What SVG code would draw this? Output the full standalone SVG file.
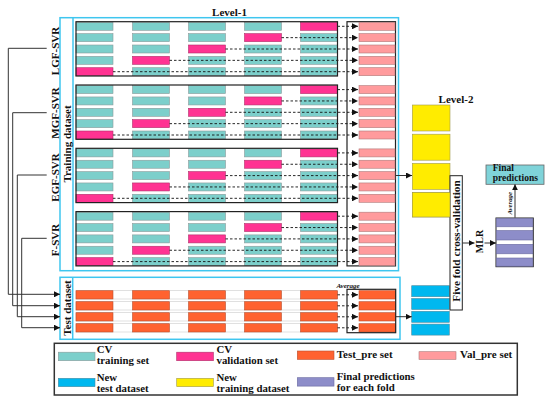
<svg xmlns="http://www.w3.org/2000/svg" xmlns:xlink="http://www.w3.org/1999/xlink" width="550" height="402" viewBox="0 0 550 402">
<style>
.t{font-family:"Liberation Serif","Times New Roman",serif;font-weight:bold;fill:#111}
.tl{fill:#7ccfcb;stroke:#8a9a9a;stroke-width:0.6}
.pk{fill:#ff3392;stroke:#b0306a;stroke-width:0.6}
.vp{fill:#ff9b9d;stroke:#b07a7a;stroke-width:0.6}
.or{fill:#ff6230;stroke:#b85030;stroke-width:0.6}
.bl{fill:#00b8ef;stroke:#4a8aa0;stroke-width:0.6}
.ye{fill:#ffec00;stroke:#a09a50;stroke-width:0.6}
.pu{fill:#8d8dc9;stroke:#6a6aa0;stroke-width:0.6}
.cy{fill:none;stroke:#3fc6ef;stroke-width:1.5}
.fr{fill:none;stroke:#222;stroke-width:1.2}
.da{stroke:#111;stroke-width:0.9;stroke-dasharray:2.5 2;fill:none}
.ln{stroke:#333;stroke-width:1;fill:none}
.row{fill:none;stroke:#ccc;stroke-width:0.6}
</style>
<defs>
<marker id="ah" markerWidth="7" markerHeight="6" refX="6" refY="3" orient="auto" markerUnits="userSpaceOnUse"><path d="M0,0 L6,3 L0,6 z" fill="#111"/></marker>
<g id="blk">
<rect class="tl" x="0" y="0.6" width="37" height="8"/><rect class="tl" x="56.5" y="0.6" width="37" height="8"/><rect class="tl" x="112.5" y="0.6" width="37" height="8"/><rect class="tl" x="168.5" y="0.6" width="37" height="8"/><rect class="pk" x="224.5" y="0.6" width="37" height="8"/>
<rect class="tl" x="0" y="11.95" width="37" height="8"/><rect class="tl" x="56.5" y="11.95" width="37" height="8"/><rect class="tl" x="112.5" y="11.95" width="37" height="8"/><rect class="pk" x="168.5" y="11.95" width="37" height="8"/><rect class="tl" x="224.5" y="11.95" width="37" height="8"/>
<rect class="tl" x="0" y="23.3" width="37" height="8"/><rect class="tl" x="56.5" y="23.3" width="37" height="8"/><rect class="pk" x="112.5" y="23.3" width="37" height="8"/><rect class="tl" x="168.5" y="23.3" width="37" height="8"/><rect class="tl" x="224.5" y="23.3" width="37" height="8"/>
<rect class="tl" x="0" y="34.65" width="37" height="8"/><rect class="pk" x="56.5" y="34.65" width="37" height="8"/><rect class="tl" x="112.5" y="34.65" width="37" height="8"/><rect class="tl" x="168.5" y="34.65" width="37" height="8"/><rect class="tl" x="224.5" y="34.65" width="37" height="8"/>
<rect class="pk" x="0" y="46" width="37" height="8"/><rect class="tl" x="56.5" y="46" width="37" height="8"/><rect class="tl" x="112.5" y="46" width="37" height="8"/><rect class="tl" x="168.5" y="46" width="37" height="8"/><rect class="tl" x="224.5" y="46" width="37" height="8"/>
<rect class="vp" x="283" y="0.6" width="36" height="8"/><rect class="vp" x="283" y="11.95" width="36" height="8"/><rect class="vp" x="283" y="23.3" width="36" height="8"/><rect class="vp" x="283" y="34.65" width="36" height="8"/><rect class="vp" x="283" y="46" width="36" height="8"/>
<path class="da" d="M261.5,4.6 H282" marker-end="url(#ah)"/>
<path class="da" d="M205.5,15.95 H282" marker-end="url(#ah)"/>
<path class="da" d="M149.5,27.3 H282" marker-end="url(#ah)"/>
<path class="da" d="M93.5,38.65 H282" marker-end="url(#ah)"/>
<path class="da" d="M37,50 H282" marker-end="url(#ah)"/>
<rect class="fr" x="0" y="0" width="261.5" height="54.3"/>
</g>
</defs>
<rect width="550" height="402" fill="#fff"/>

<g id="training-dataset">
<rect class="cy" x="60" y="17.7" width="338.5" height="253"/>
<line class="cy" x1="73" y1="17.7" x2="73" y2="270.7"/>
<text class="t" font-size="11" text-anchor="middle" transform="translate(70.5,144) rotate(-90)">Training dataset</text>
<text class="t" font-size="11" x="229.5" y="15.5" text-anchor="middle">Level-1</text>
<rect class="fr" x="347" y="21.7" width="48.5" height="244.2"/>
</g>
<g id="LGF-SVR"><use xlink:href="#blk" transform="translate(76,21.7)"/><text class="t" font-size="11" text-anchor="middle" transform="translate(58.5,51) rotate(-90)">LGF-SVR</text></g>
<g id="MGF-SVR"><use xlink:href="#blk" transform="translate(76,85)"/><text class="t" font-size="11" text-anchor="middle" transform="translate(58.5,113) rotate(-90)">MGF-SVR</text></g>
<g id="EGF-SVR"><use xlink:href="#blk" transform="translate(76,148.3)"/><text class="t" font-size="11" text-anchor="middle" transform="translate(58.5,177.5) rotate(-90)">EGF-SVR</text></g>
<g id="F-SVR"><use xlink:href="#blk" transform="translate(76,211.6)"/><text class="t" font-size="11" text-anchor="middle" transform="translate(58.5,240) rotate(-90)">F-SVR</text></g>

<g id="test-dataset">
<rect class="cy" x="60" y="277.3" width="340" height="62"/>
<line class="cy" x1="72.7" y1="277.3" x2="72.7" y2="339.3"/>
<text class="t" font-size="11" text-anchor="middle" transform="translate(70.5,308) rotate(-90)">Test dataset</text>
<rect class="row" x="76" y="290.7" width="261.5" height="8.3"/><rect class="row" x="76" y="301.7" width="261.5" height="8.3"/><rect class="row" x="76" y="312.7" width="261.5" height="8.3"/><rect class="row" x="76" y="323.7" width="261.5" height="8.3"/>
<rect class="or" x="76" y="290.7" width="37" height="8.3"/><rect class="or" x="132.5" y="290.7" width="37" height="8.3"/><rect class="or" x="188.5" y="290.7" width="37" height="8.3"/><rect class="or" x="244.5" y="290.7" width="37" height="8.3"/><rect class="or" x="300.5" y="290.7" width="37" height="8.3"/>
<rect class="or" x="76" y="301.7" width="37" height="8.3"/><rect class="or" x="132.5" y="301.7" width="37" height="8.3"/><rect class="or" x="188.5" y="301.7" width="37" height="8.3"/><rect class="or" x="244.5" y="301.7" width="37" height="8.3"/><rect class="or" x="300.5" y="301.7" width="37" height="8.3"/>
<rect class="or" x="76" y="312.7" width="37" height="8.3"/><rect class="or" x="132.5" y="312.7" width="37" height="8.3"/><rect class="or" x="188.5" y="312.7" width="37" height="8.3"/><rect class="or" x="244.5" y="312.7" width="37" height="8.3"/><rect class="or" x="300.5" y="312.7" width="37" height="8.3"/>
<rect class="or" x="76" y="323.7" width="37" height="8.3"/><rect class="or" x="132.5" y="323.7" width="37" height="8.3"/><rect class="or" x="188.5" y="323.7" width="37" height="8.3"/><rect class="or" x="244.5" y="323.7" width="37" height="8.3"/><rect class="or" x="300.5" y="323.7" width="37" height="8.3"/>
<rect class="or" x="359" y="290.7" width="36.5" height="8.3"/><rect class="or" x="359" y="301.7" width="36.5" height="8.3"/><rect class="or" x="359" y="312.7" width="36.5" height="8.3"/><rect class="or" x="359" y="323.7" width="36.5" height="8.3"/>
<path class="da" d="M337.5,294.8 H358" marker-end="url(#ah)"/>
<path class="da" d="M337.5,305.8 H358" marker-end="url(#ah)"/>
<path class="da" d="M337.5,316.8 H358" marker-end="url(#ah)"/>
<path class="da" d="M337.5,327.8 H358" marker-end="url(#ah)"/>
<rect class="fr" x="347" y="289.3" width="48.7" height="43.4"/>
<text class="t" font-size="7" font-style="italic" x="348" y="288" text-anchor="middle">Average</text>
</g>

<g id="new-test-dataset">
<rect class="bl" x="411.7" y="285.7" width="37.6" height="11"/><rect class="bl" x="411.7" y="298.5" width="37.6" height="11"/><rect class="bl" x="411.7" y="311.3" width="37.6" height="11"/><rect class="bl" x="411.7" y="324.1" width="37.6" height="11"/>
</g>

<g id="level-2">
<text class="t" font-size="11" x="456" y="102.5" text-anchor="middle">Level-2</text>
<rect class="ye" x="412.3" y="105" width="37.7" height="26"/><rect class="ye" x="412.3" y="134.2" width="37.7" height="26"/><rect class="ye" x="412.3" y="163.4" width="37.7" height="26"/><rect class="ye" x="412.3" y="192.6" width="37.7" height="24.4"/>
</g>

<g id="five-fold">
<rect x="450" y="175.7" width="12.3" height="134.3" fill="#fff" stroke="#222" stroke-width="1"/>
<rect class="ye" x="412.3" y="192.6" width="37.7" height="24.4"/>
<text class="t" font-size="11.3" text-anchor="middle" transform="translate(460,241) rotate(-90)">Five fold cross-validation</text>
</g>

<g id="MLR">
<text class="t" font-size="10" text-anchor="middle" transform="translate(483,241.5) rotate(-90)">MLR</text>
</g>

<g id="final-fold">
<rect x="496" y="218" width="37.3" height="48.7" fill="#fff" stroke="#222" stroke-width="1"/>
<rect class="pu" x="496.5" y="218.5" width="36.3" height="8.3"/><rect class="pu" x="496.5" y="230.5" width="36.3" height="9.5"/><rect class="pu" x="496.5" y="244.3" width="36.3" height="9.5"/><rect class="pu" x="496.5" y="258" width="36.3" height="8.2"/>
</g>

<g id="final-predictions">
<rect x="486" y="165" width="58" height="19.3" fill="#7fd3d9" stroke="#666" stroke-width="0.8"/>
<text class="t" font-size="9.5" x="492.7" y="171.2">Final</text>
<text class="t" font-size="9.5" x="492.7" y="181.2">predictions</text>
</g>

<g id="connectors">
<path class="ln" d="M46.7,48.3 H8.3 V294.3 H60" marker-end="url(#ah)"/>
<path class="ln" d="M46.7,112.7 H12.7 V305.7 H60" marker-end="url(#ah)"/>
<path class="ln" d="M46.7,175 H17.3 V316.7 H60" marker-end="url(#ah)"/>
<path class="ln" d="M46.7,238.3 H21.7 V327.7 H60" marker-end="url(#ah)"/>
<path class="ln" d="M395.5,175.5 H412" marker-end="url(#ah)"/>
<path class="ln" d="M396,316.7 H411.7" marker-end="url(#ah)"/>
<path class="ln" d="M462.3,243 H474.5" marker-end="url(#ah)"/>
<path class="ln" d="M484.5,243 H496" marker-end="url(#ah)"/>
<path class="ln" d="M515,217.7 V184.3" marker-end="url(#ah)"/>
<text class="t" font-size="6.8" font-style="italic" text-anchor="middle" transform="translate(511.5,203.3) rotate(-90)">Average</text>
</g>

<g id="legend">
<rect x="54.3" y="343.3" width="463" height="51.7" fill="#fff" stroke="#333" stroke-width="1.5"/>
<rect class="tl" x="58.3" y="352.2" width="36.7" height="8.5"/>
<text class="t" font-size="10.8" x="96.7" y="353.3">CV</text><text class="t" font-size="10.8" x="96.7" y="364.3">training set</text>
<rect class="pk" x="176.7" y="352.2" width="36.7" height="8.5"/>
<text class="t" font-size="10.8" x="216.5" y="353.3">CV</text><text class="t" font-size="10.8" x="216.5" y="364.3">validation set</text>
<rect class="or" x="297.3" y="351" width="36.7" height="8.4"/>
<text class="t" font-size="11" x="336.7" y="358">Test_pre set</text>
<rect class="vp" x="419" y="351.7" width="37" height="7.7"/>
<text class="t" font-size="11" x="460" y="358">Val_pre set</text>
<rect class="bl" x="58.3" y="378.3" width="36.7" height="8.4"/>
<text class="t" font-size="10.8" x="96.7" y="380.5">New</text><text class="t" font-size="10.8" x="96.7" y="391.5">test dataset</text>
<rect class="ye" x="176.7" y="378.3" width="36.7" height="8.4"/>
<text class="t" font-size="10.8" x="216.5" y="380.5">New</text><text class="t" font-size="10.8" x="216.5" y="391.5">training dataset</text>
<rect class="pu" x="297.3" y="377.7" width="36.7" height="8.4"/>
<text class="t" font-size="10.8" x="336.7" y="380">Final predictions</text><text class="t" font-size="10.8" x="336.7" y="391">for each fold</text>
</g>
</svg>
